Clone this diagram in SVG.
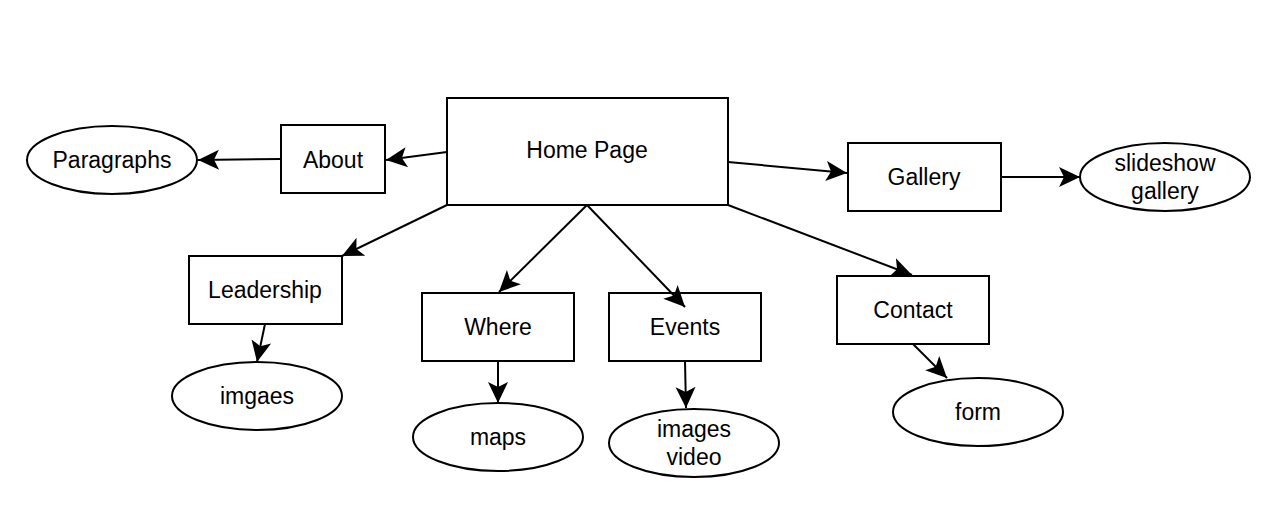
<svg xmlns="http://www.w3.org/2000/svg" width="1283" height="516" viewBox="0 0 1283 516">
<style>
.n{fill:#fff;stroke:#000;stroke-width:2}
.t{font-family:"Liberation Sans",Arial,sans-serif;font-size:23px;fill:#000;text-anchor:middle}
.e{fill:none;stroke:#000;stroke-width:2}
</style>
<defs>
<marker id="a" viewBox="-22 -11 23 22" refX="0" refY="0" markerWidth="23" markerHeight="22" markerUnits="userSpaceOnUse" orient="auto">
<path d="M0,0 L-21,-10 L-16,0 L-21,10 Z" fill="#000"/>
</marker>
</defs>
<rect width="1283" height="516" fill="#fff"/>
<g id="home"><rect class="n" x="447" y="98" width="281" height="107"/><text class="t" x="587" y="158">Home Page</text></g>
<g id="about"><rect class="n" x="281" y="125" width="104" height="68"/><text class="t" x="333" y="168">About</text></g>
<g id="paragraphs"><ellipse class="n" cx="112" cy="160" rx="85" ry="34"/><text class="t" x="112" y="168">Paragraphs</text></g>
<g id="gallery"><rect class="n" x="848" y="143" width="153" height="68"/><text class="t" x="924" y="185">Gallery</text></g>
<g id="slideshow"><ellipse class="n" cx="1165" cy="177" rx="85" ry="34"/><text class="t" x="1165" y="171">slideshow</text><text class="t" x="1165" y="199">gallery</text></g>
<g id="leadership"><rect class="n" x="189" y="256" width="153" height="68"/><text class="t" x="265" y="298">Leadership</text></g>
<g id="imgaes"><ellipse class="n" cx="257" cy="396" rx="85" ry="34"/><text class="t" x="257" y="404">imgaes</text></g>
<g id="where"><rect class="n" x="422" y="293" width="152" height="68"/><text class="t" x="498" y="335">Where</text></g>
<g id="maps"><ellipse class="n" cx="498" cy="437" rx="85" ry="34"/><text class="t" x="498" y="445">maps</text></g>
<g id="events"><rect class="n" x="609" y="293" width="152" height="68"/><text class="t" x="685" y="335">Events</text></g>
<g id="imagesvideo"><ellipse class="n" cx="694" cy="443" rx="85" ry="34"/><text class="t" x="694" y="437">images</text><text class="t" x="694" y="465">video</text></g>
<g id="contact"><rect class="n" x="837" y="276" width="152" height="68"/><text class="t" x="913" y="318">Contact</text></g>
<g id="form"><ellipse class="n" cx="978" cy="412" rx="85" ry="34"/><text class="t" x="978" y="420">form</text></g>
<g id="connectors">
<line class="e" x1="447" y1="152" x2="386" y2="160" marker-end="url(#a)"/>
<line class="e" x1="281" y1="159" x2="198" y2="160" marker-end="url(#a)"/>
<line class="e" x1="728" y1="162" x2="847" y2="173" marker-end="url(#a)"/>
<line class="e" x1="1001" y1="177" x2="1080" y2="177" marker-end="url(#a)"/>
<line class="e" x1="447" y1="205" x2="342" y2="256" marker-end="url(#a)"/>
<line class="e" x1="587" y1="205" x2="499" y2="292" marker-end="url(#a)"/>
<line class="e" x1="587" y1="205" x2="685" y2="307" marker-end="url(#a)"/>
<line class="e" x1="728" y1="205" x2="912" y2="275" marker-end="url(#a)"/>
<line class="e" x1="265" y1="324" x2="257" y2="362" marker-end="url(#a)"/>
<line class="e" x1="498" y1="361" x2="498" y2="403" marker-end="url(#a)"/>
<line class="e" x1="685" y1="361" x2="686" y2="408" marker-end="url(#a)"/>
<line class="e" x1="913" y1="344" x2="947" y2="378" marker-end="url(#a)"/>
</g>
</svg>
